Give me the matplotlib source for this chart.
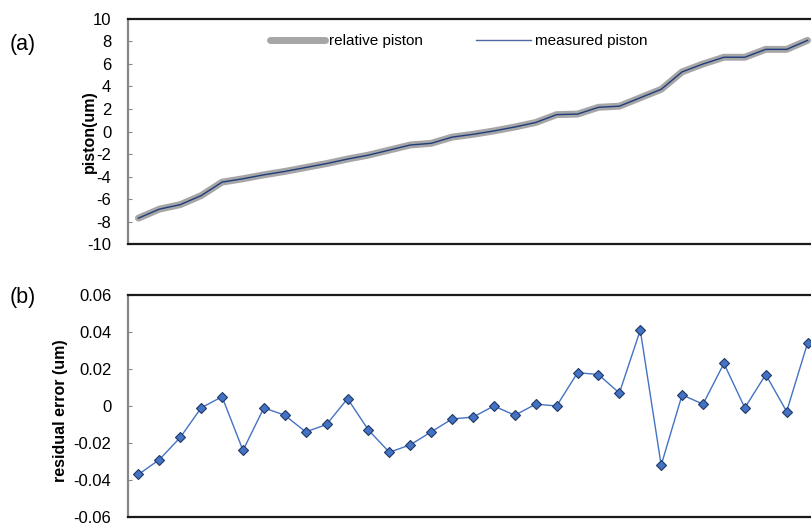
import matplotlib.pyplot as plt
import numpy as np

plt.rcParams['font.family'] = ['Liberation Sans', 'DejaVu Sans']
plt.rcParams['axes.unicode_minus'] = False

# piston readings, one per step
relative_piston = [-7.7, -6.9, -6.5, -5.7, -4.5, -4.2, -3.85, -3.55, -3.2, -2.85,
                   -2.45, -2.1, -1.65, -1.2, -1.05, -0.5, -0.25, 0.05, 0.4, 0.8,
                   1.5, 1.55, 2.15, 2.25, 3.0, 3.75, 5.3, 6.0, 6.6, 6.6,
                   7.3, 7.3, 8.1]
measured_piston = [-7.7, -6.9, -6.5, -5.7, -4.5, -4.2, -3.85, -3.55, -3.2, -2.85,
                   -2.45, -2.1, -1.65, -1.2, -1.05, -0.5, -0.25, 0.05, 0.4, 0.8,
                   1.5, 1.55, 2.15, 2.25, 3.0, 3.75, 5.3, 6.0, 6.6, 6.6,
                   7.3, 7.3, 8.1]
residual_error = [-0.037, -0.029, -0.017, -0.001, 0.005, -0.024, -0.001, -0.005, -0.014, -0.010,
                  0.004, -0.013, -0.025, -0.021, -0.014, -0.007, -0.006, 0.000, -0.005, 0.001,
                  0.000, 0.018, 0.017, 0.007, 0.041, -0.032, 0.006, 0.001, 0.023, -0.001,
                  0.017, -0.003, 0.034]

piston_ticks = np.arange(-10, 11, 2)
error_ticks = [-0.06, -0.04, -0.02, 0, 0.02, 0.04, 0.06]
error_tick_labels = ['-0.06', '-0.04', '-0.02', '0', '0.02', '0.04', '0.06']

n = len(relative_piston)
x = np.arange(1, n + 1)

fig = plt.figure(figsize=(8.12, 5.26), dpi=100)
# plot area runs past the right edge of the page
ax0 = fig.add_axes([0.1576, 0.5361, 0.8498, 0.4278])
ax1 = fig.add_axes([0.1576, 0.0171, 0.8498, 0.4221])


def style_axis(ax):
    ax.set_xlim(0.5, n + 0.5)
    ax.set_xticks([])
    for side in ['top', 'bottom']:
        ax.spines[side].set_color('#1a1a1a')
        ax.spines[side].set_linewidth(1.6)
    ax.spines['left'].set_color('#868686')
    ax.spines['left'].set_linewidth(1.6)
    ax.spines['right'].set_visible(False)
    ax.tick_params(axis='y', direction='in', length=3, width=0.8, color='#868686',
                   labelsize=12, pad=12)


style_axis(ax0)
ax0.plot(x, relative_piston, color='#a6a6a6', linewidth=5, solid_capstyle='round',
         solid_joinstyle='round', label='relative piston')
ax0.plot(x, measured_piston, color='#1f3c7a', linewidth=1.0, label='measured piston')
ax0.set_ylim(-10, 10)
ax0.set_yticks(piston_ticks)
ax0.set_ylabel('piston(um)', fontsize=11.5, fontweight='bold')
ax0.yaxis.set_label_coords(-0.045, 0.5)
leg = ax0.legend(loc='center left', bbox_to_anchor=(0.206, 0.9), ncol=2, frameon=False,
                 fontsize=11, handlelength=3.6, handletextpad=0.26, columnspacing=3.5,
                 borderpad=0, borderaxespad=0)
leg.get_lines()[1].set_color('#5068a0')

style_axis(ax1)
ax1.plot(x, residual_error, color='#4472c4', linewidth=1.0, marker='D', markersize=5,
         markerfacecolor='#4472c4', markeredgecolor='#1f3864', markeredgewidth=0.8)
ax1.set_ylim(-0.06, 0.06)
ax1.set_yticks(error_ticks)
ax1.set_yticklabels(error_tick_labels)
ax1.set_ylabel('residual error (um)', fontsize=11.5, fontweight='bold')
ax1.yaxis.set_label_coords(-0.087, 0.477)

fig.text(0.012, 0.916, '(a)', fontsize=15.5, va='center')
fig.text(0.012, 0.435, '(b)', fontsize=15.5, va='center')

fig.savefig('out.png', dpi=100)
